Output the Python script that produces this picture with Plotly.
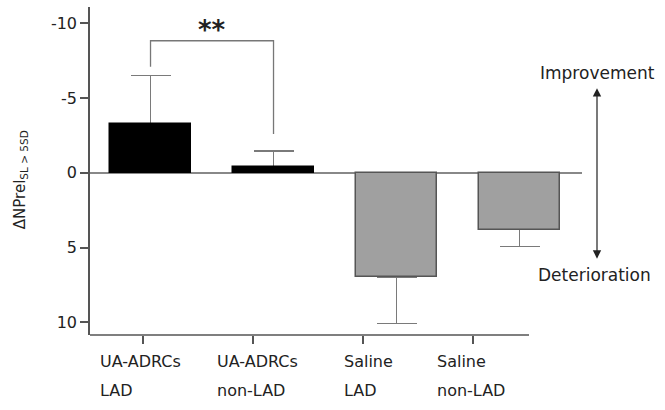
import plotly.graph_objects as go

# ---- data ----
categories = ["UA-ADRCs LAD", "UA-ADRCs non-LAD", "Saline LAD", "Saline non-LAD"]
label_line1 = ["UA-ADRCs", "UA-ADRCs", "Saline", "Saline"]
label_line2 = ["LAD", "non-LAD", "LAD", "non-LAD"]
values = [-3.26, -0.36, 7.0, 3.79]
sem = [3.26, 1.11, 3.09, 1.14]
bar_colors = ["#000000", "#000000", "#a0a0a0", "#a0a0a0"]
line_colors = ["#000000", "#000000", "#555555", "#555555"]
y_ticks = [-10, -5, 0, 5, 10]
y_range = [10.85, -11.1]
# significance bracket between bar 0 and bar 1
bracket_pair = [0, 1]
bracket_y_top = -8.84
bracket_y_bottom = [-7.1, -2.6]
sig_label = "**"

FONT = "DejaVu Sans"
TXT = "#222222"
AX = "#555555"

x_idx = list(range(len(categories)))
err_plus = [e if v > 0 else 0 for v, e in zip(values, sem)]
err_minus = [e if v < 0 else 0 for v, e in zip(values, sem)]
BW = 0.663
PW = 492.0  # plot width in px
AXIS_END = 439.0 / PW

fig = go.Figure()
# error bars (drawn below the bars so the inner cap hides under the bar edge)
fig.add_trace(go.Bar(
    x=x_idx, y=values, width=BW,
    marker=dict(color="rgba(0,0,0,0)", line=dict(width=0)),
    error_y=dict(type="data", symmetric=False, array=err_plus, arrayminus=err_minus,
                 color="#7a7a7a", thickness=1.5, width=20),
    showlegend=False, hoverinfo="skip"))
fig.add_trace(go.Bar(
    x=x_idx, y=values, width=BW,
    marker=dict(color=bar_colors, line=dict(color=line_colors, width=1.5)),
    showlegend=False))

# significance bracket
bx0, bx1 = bracket_pair
fig.add_trace(go.Scatter(
    x=[bx0, bx0, bx1, bx1],
    y=[bracket_y_bottom[0], bracket_y_top, bracket_y_top, bracket_y_bottom[1]],
    mode="lines", line=dict(color="#777777", width=1.3),
    showlegend=False, hoverinfo="skip"))

# carrier trace for the category tick axis
fig.add_trace(go.Scatter(x=x_idx, y=[0] * len(x_idx), xaxis="x2", mode="markers",
                         marker=dict(opacity=0), showlegend=False, hoverinfo="skip"))

annotations = []
annotations.append(dict(x=(bx0 + bx1) / 2, y=bracket_y_top - 0.75, xref="x", yref="y",
                        text="<b>" + sig_label + "</b>", showarrow=False,
                        xanchor="center", yanchor="middle",
                        font=dict(family=FONT, size=26, color=TXT)))

shifts = [-45, -38, -21, -38]
for i in x_idx:
    annotations.append(dict(x=i, y=-0.082, xref="x2", yref="paper", text=label_line1[i],
                            showarrow=False, xanchor="left", yanchor="middle", xshift=shifts[i],
                            font=dict(family=FONT, size=16, color=TXT)))
    annotations.append(dict(x=i, y=-0.168, xref="x2", yref="paper", text=label_line2[i],
                            showarrow=False, xanchor="left", yanchor="middle", xshift=shifts[i],
                            font=dict(family=FONT, size=16, color=TXT)))

# y axis title
annotations.append(dict(x=-70 / PW, y=0.472, xref="paper", yref="paper",
                        text="ΔNPrel<sub>SL &gt; 5SD</sub>", textangle=-90, showarrow=False,
                        xanchor="center", yanchor="middle",
                        font=dict(family=FONT, size=15, color=TXT)))
# improvement / deterioration
annotations.append(dict(x=507 / PW, y=0.799, xref="paper", yref="paper", text="Improvement",
                        showarrow=False, xanchor="center", yanchor="middle",
                        font=dict(family=FONT, size=17, color=TXT)))
annotations.append(dict(x=504 / PW, y=0.183, xref="paper", yref="paper", text="Deterioration",
                        showarrow=False, xanchor="center", yanchor="middle",
                        font=dict(family=FONT, size=17, color=TXT)))
annotations.append(dict(x=507 / PW, y=-5.67, xref="paper", yref="y", ax=0, ay=172,
                        text="", showarrow=True, arrowside="end+start", arrowhead=2,
                        arrowsize=1.4, arrowwidth=1.2, arrowcolor="#222222"))

fig.update_layout(
    width=665, height=410,
    margin=dict(l=90, r=665 - 90 - PW, t=7, b=75),
    paper_bgcolor="white", plot_bgcolor="white",
    barmode="overlay", bargap=0,
    font=dict(family=FONT, size=16, color=TXT),
    annotations=annotations,
    shapes=[dict(type="line", xref="paper", yref="paper", x0=0, x1=AXIS_END, y0=0, y1=0,
                 line=dict(color=AX, width=1.5), layer="above")],
    xaxis=dict(range=[-0.492, -0.492 + PW / 123.0], showline=False,
               ticks="", showticklabels=False, showgrid=False, zeroline=False),
    xaxis2=dict(range=[-0.48, -0.48 + PW / 110.0], overlaying="x", anchor="y", side="bottom",
                showline=False, ticks="outside", ticklen=8, tickcolor=AX, tickwidth=1.5,
                tickvals=x_idx, showticklabels=False, showgrid=False, zeroline=False),
    yaxis=dict(range=y_range, showline=True, linecolor=AX, linewidth=1.5,
               ticks="outside", ticklen=8, tickcolor=AX, tickwidth=1.5,
               tickvals=y_ticks, ticktext=[str(t) for t in y_ticks],
               tickfont=dict(family=FONT, size=16, color=TXT),
               showgrid=False, zeroline=True, zerolinecolor="#888888", zerolinewidth=1.5),
)

fig.write_html("out.html", config={"displayModeBar": False},
               post_script="document.body.style.margin='0';")
